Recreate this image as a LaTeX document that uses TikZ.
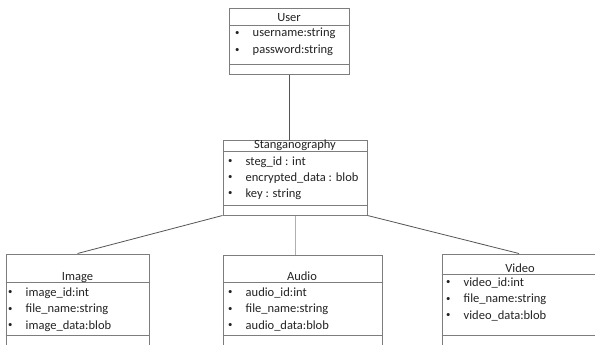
\documentclass[tikz,border=0pt]{standalone}
\usepackage{fontspec}
\setmainfont{Carlito}
\usetikzlibrary{calc}
\definecolor{BoxGray}{RGB}{125,125,125}
\definecolor{LinkGray}{RGB}{85,85,85}
\definecolor{LinkLight}{RGB}{175,175,175}
\definecolor{TextDark}{RGB}{35,35,35}

\tikzset{
  classbox/.style={draw=BoxGray, line width=1pt, inner sep=0pt},
  sep/.style={draw=BoxGray, line width=0.9pt},
  classtitle/.style={inner sep=0pt, text height=9pt, text depth=3pt, text=TextDark},
  attr/.style={anchor=west, inner sep=0pt, text height=9pt, text depth=3pt, text=TextDark,
    execute at begin node={\makebox[18.5pt][l]{\hspace{1pt}\raisebox{1.2pt}{\scalebox{0.7}{\textbullet}}}}},
  link/.style={draw=LinkGray, line width=0.8pt},
}

\begin{document}
\begin{tikzpicture}[x=1pt, y=-1pt, font=\fontsize{12.5}{15}\selectfont]
    \useasboundingbox (0,0) rectangle (595,345);
    \clip (0,0) rectangle (595,345);
    \fill[white] (0,0) rectangle (595,345);

    % class boxes
    \node[classbox, minimum width=120, minimum height=66] (user) at (289.5,42) {};
    \node[classbox, minimum width=144, minimum height=75] (steg) at (295,177.5) {};
    \node[classbox, minimum width=143, minimum height=106] (image) at (77.5,307) {};
    \node[classbox, minimum width=159, minimum height=105] (audio) at (302.5,307.5) {};
    \node[classbox, minimum width=154, minimum height=106] (video) at (519,307) {};

    % compartment lines
    \draw[sep] ($(user.north west)+(0,17)$) -- ($(user.north east)+(0,17)$);
    \draw[sep] ($(user.north west)+(0,56)$) -- ($(user.north east)+(0,56)$);
    \draw[sep] ($(steg.north west)+(0,12)$) -- ($(steg.north east)+(0,12)$);
    \draw[sep] ($(steg.north west)+(0,66)$) -- ($(steg.north east)+(0,66)$);
    \draw[sep] ($(image.north west)+(0,29)$) -- ($(image.north east)+(0,29)$);
    \draw[sep] ($(image.north west)+(0,82)$) -- ($(image.north east)+(0,82)$);
    \draw[sep] ($(audio.north west)+(0,28)$) -- ($(audio.north east)+(0,28)$);
    \draw[sep] ($(audio.north west)+(0,81)$) -- ($(audio.north east)+(0,81)$);
    \draw[sep] ($(video.north west)+(0,21)$) -- ($(video.north east)+(0,21)$);
    \draw[sep] ($(video.north west)+(0,82)$) -- ($(video.north east)+(0,82)$);

    % names
    \node[classtitle] (user-title) at (289,19) {User};
    \node[classtitle] (steg-title) at (295,146) {Stanganography};
    \node[classtitle] (image-title) at (77.5,277) {Image};
    \node[classtitle] (audio-title) at (302,277) {Audio};
    \node[classtitle] (video-title) at (520,269) {Video};

    % attributes
    \foreach \a [count=\i] in {username:string, password:string}
        \node[attr] (user-a\i) at (234,17+17*\i) {\a};
    \foreach \a [count=\i] in {steg\_id : int, encrypted\_data : blob, key : string}
        \node[attr] (steg-a\i) at (227,146+16*\i) {\a};
    \foreach \a [count=\i] in {image\_id:int, file\_name:string, image\_data:blob}
        \node[attr] (image-a\i) at (7,276.5+16.5*\i) {\a};
    \foreach \a [count=\i] in {audio\_id:int, file\_name:string, audio\_data:blob}
        \node[attr] (audio-a\i) at (227,276.5+16.5*\i) {\a};
    \foreach \a [count=\i] in {video\_id:int, file\_name:string, video\_data:blob}
        \node[attr] (video-a\i) at (445,266.5+16.5*\i) {\a};

    % associations
    \draw[link] (user.south) -- (user.south |- steg.north);
    \draw[link] (steg.south west) -- (image.north);
    \draw[link, draw=LinkLight] (steg.south) -- (steg.south |- audio.north);
    \draw[link] (steg.south east) -- (video.north);
\end{tikzpicture}
\end{document}
